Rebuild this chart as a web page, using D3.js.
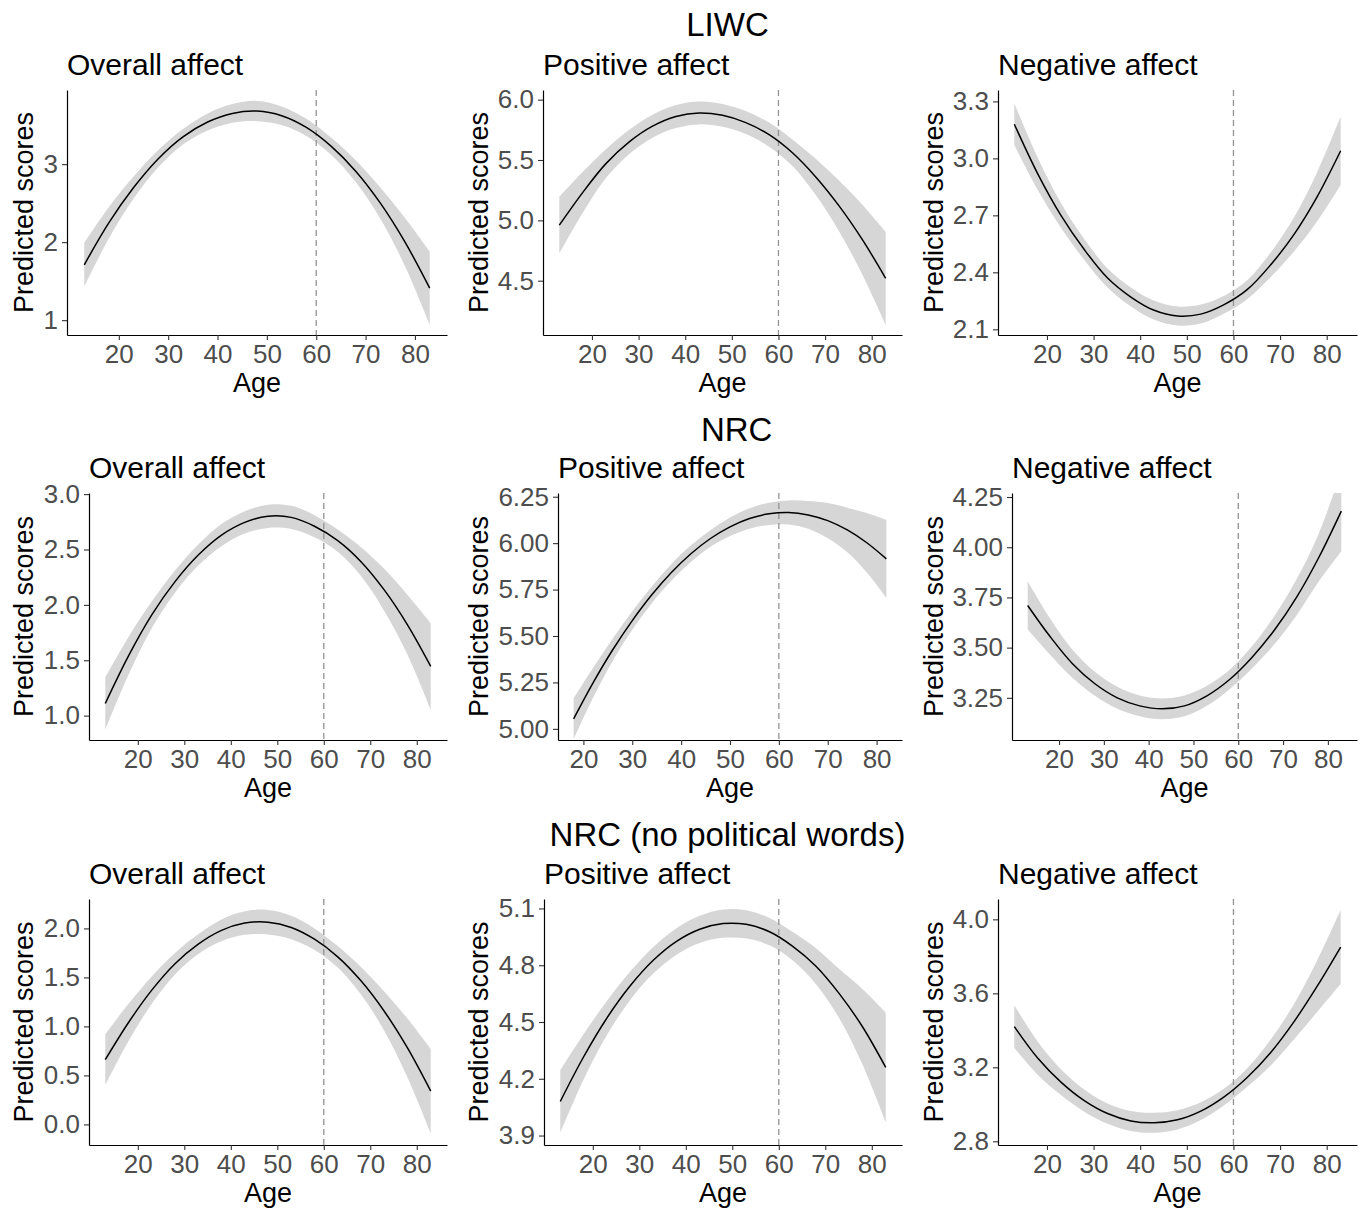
<!DOCTYPE html>
<html>
<head>
<meta charset="utf-8">
<script src="https://cdn.jsdelivr.net/npm/d3@7"></script>
<style>
  body { margin: 0; background: #fff; }
  svg { display: block; font-family: "Liberation Sans", Arial, Helvetica, sans-serif; }
</style>
</head>
<body>
<svg id="chart" width="1363" height="1208"></svg>
<script>
// ---------------- DATA ----------------
const sectionTitles = ["LIWC", "NRC", "NRC (no political words)"];
const panelTitles = ["Overall affect", "Positive affect", "Negative affect"];
const xTicks = [20, 30, 40, 50, 60, 70, 80];
const cutoffAge = 60;

const ages = [13, 18, 23, 28, 33, 38, 43, 48, 53, 58, 63, 68, 73, 78, 83];
const agesNrcPos = [18, 22, 26, 30, 34, 38, 42, 46, 50, 54, 58, 62, 66, 70, 74, 78, 82];

// LIWC
const liwcOverallFit   = [1.71, 2.25, 2.70, 3.07, 3.35, 3.54, 3.65, 3.68, 3.62, 3.47, 3.23, 2.91, 2.50, 2.00, 1.41];
const liwcOverallLower = [1.43, 2.05, 2.56, 2.96, 3.25, 3.43, 3.53, 3.55, 3.50, 3.36, 3.12, 2.77, 2.30, 1.69, 0.94];
const liwcOverallUpper = [1.99, 2.45, 2.84, 3.18, 3.45, 3.65, 3.77, 3.81, 3.74, 3.58, 3.34, 3.05, 2.70, 2.31, 1.88];

const liwcPosFit   = [4.96, 5.23, 5.47, 5.65, 5.78, 5.86, 5.89, 5.87, 5.81, 5.71, 5.56, 5.36, 5.12, 4.84, 4.52];
const liwcPosLower = [4.725, 5.06, 5.35, 5.55, 5.685, 5.765, 5.795, 5.775, 5.715, 5.61, 5.45, 5.21, 4.91, 4.55, 4.135];
const liwcPosUpper = [5.195, 5.40, 5.59, 5.75, 5.875, 5.955, 5.985, 5.965, 5.905, 5.81, 5.67, 5.51, 5.33, 5.13, 4.905];

const liwcNegFit   = [3.18, 2.92, 2.70, 2.52, 2.37, 2.27, 2.20, 2.17, 2.18, 2.23, 2.31, 2.44, 2.60, 2.80, 3.04];
const liwcNegLower = [3.07, 2.835, 2.635, 2.465, 2.32, 2.22, 2.15, 2.12, 2.13, 2.183, 2.26, 2.375, 2.51, 2.67, 2.86];
const liwcNegUpper = [3.29, 3.005, 2.765, 2.575, 2.42, 2.32, 2.25, 2.22, 2.23, 2.277, 2.36, 2.505, 2.69, 2.93, 3.22];

// NRC
const nrcOverallFit   = [1.11, 1.54, 1.91, 2.21, 2.45, 2.63, 2.745, 2.80, 2.79, 2.71, 2.58, 2.39, 2.135, 1.82, 1.445];
const nrcOverallLower = [0.875, 1.37, 1.79, 2.11, 2.355, 2.53, 2.645, 2.695, 2.685, 2.61, 2.48, 2.26, 1.945, 1.55, 1.055];
const nrcOverallUpper = [1.345, 1.71, 2.03, 2.31, 2.545, 2.73, 2.845, 2.905, 2.895, 2.81, 2.68, 2.52, 2.325, 2.09, 1.835];

const nrcPosFit   = [5.054, 5.249, 5.426, 5.583, 5.722, 5.842, 5.943, 6.025, 6.088, 6.133, 6.158, 6.165, 6.152, 6.121, 6.071, 6.002, 5.915];
const nrcPosLower = [4.944, 5.169, 5.366, 5.533, 5.677, 5.797, 5.898, 5.980, 6.038, 6.078, 6.098, 6.100, 6.077, 6.026, 5.951, 5.842, 5.705];
const nrcPosUpper = [5.164, 5.329, 5.486, 5.633, 5.767, 5.887, 5.988, 6.070, 6.138, 6.188, 6.218, 6.230, 6.227, 6.216, 6.191, 6.162, 6.125];

const nrcNegFit   = [3.71, 3.555, 3.42, 3.32, 3.25, 3.21, 3.195, 3.21, 3.26, 3.34, 3.45, 3.585, 3.75, 3.95, 4.18];
const nrcNegLower = [3.59, 3.465, 3.35, 3.26, 3.195, 3.158, 3.143, 3.158, 3.21, 3.292, 3.395, 3.515, 3.66, 3.83, 3.98];
const nrcNegUpper = [3.83, 3.645, 3.49, 3.38, 3.305, 3.262, 3.247, 3.262, 3.31, 3.388, 3.505, 3.655, 3.84, 4.07, 4.38];

// NRC (no political words)
const nrcnpOverallFit   = [0.66, 1.04, 1.37, 1.64, 1.84, 1.98, 2.054, 2.064, 2.01, 1.89, 1.71, 1.465, 1.155, 0.78, 0.34];
const nrcnpOverallLower = [0.40, 0.85, 1.23, 1.53, 1.74, 1.87, 1.934, 1.939, 1.89, 1.78, 1.60, 1.325, 0.955, 0.48, -0.09];
const nrcnpOverallUpper = [0.92, 1.23, 1.51, 1.75, 1.94, 2.09, 2.174, 2.189, 2.13, 2.00, 1.82, 1.605, 1.355, 1.08, 0.77];

const nrcnpPosFit   = [4.08, 4.315, 4.52, 4.69, 4.826, 4.926, 4.99, 5.02, 5.016, 4.977, 4.90, 4.795, 4.65, 4.475, 4.26];
const nrcnpPosLower = [3.915, 4.195, 4.43, 4.615, 4.756, 4.856, 4.918, 4.945, 4.941, 4.905, 4.825, 4.70, 4.52, 4.275, 3.97];
const nrcnpPosUpper = [4.245, 4.435, 4.61, 4.765, 4.896, 4.996, 5.062, 5.095, 5.091, 5.049, 4.975, 4.89, 4.78, 4.675, 4.55];

const nrcnpNegFit   = [3.42, 3.25, 3.12, 3.02, 2.95, 2.91, 2.90, 2.916, 2.963, 3.04, 3.146, 3.28, 3.447, 3.64, 3.85];
const nrcnpNegLower = [3.304, 3.16, 3.05, 2.96, 2.895, 2.856, 2.846, 2.864, 2.915, 2.995, 3.096, 3.21, 3.352, 3.50, 3.65];
const nrcnpNegUpper = [3.536, 3.34, 3.19, 3.08, 3.005, 2.964, 2.954, 2.968, 3.011, 3.085, 3.196, 3.35, 3.542, 3.78, 4.05];

// y tick labels per panel
const yTicks = [
  ["1", "2", "3"],
  ["4.5", "5.0", "5.5", "6.0"],
  ["2.1", "2.4", "2.7", "3.0", "3.3"],
  ["1.0", "1.5", "2.0", "2.5", "3.0"],
  ["5.00", "5.25", "5.50", "5.75", "6.00", "6.25"],
  ["3.25", "3.50", "3.75", "4.00", "4.25"],
  ["0.0", "0.5", "1.0", "1.5", "2.0"],
  ["3.9", "4.2", "4.5", "4.8", "5.1"],
  ["2.8", "3.2", "3.6", "4.0"]
];
// axis limits per panel (y)
const yLimits = [
  [0.81, 3.95], [4.05, 6.08], [2.07, 3.36],
  [0.78, 3.01], [4.94, 6.27], [3.04, 4.27],
  [-0.21, 2.30], [3.85, 5.15], [2.78, 4.11]
];
const xLimits = [
  [9.5, 86.5], [9.5, 86.5], [9.5, 86.5],
  [9.5, 86.5], [14.8, 85.2], [9.5, 86.5],
  [9.5, 86.5], [9.5, 86.5], [9.5, 86.5]
];

const panelAges = [ages, ages, ages, ages, agesNrcPos, ages, ages, ages, ages];
const panelFit = [liwcOverallFit, liwcPosFit, liwcNegFit, nrcOverallFit, nrcPosFit, nrcNegFit, nrcnpOverallFit, nrcnpPosFit, nrcnpNegFit];
const panelLower = [liwcOverallLower, liwcPosLower, liwcNegLower, nrcOverallLower, nrcPosLower, nrcNegLower, nrcnpOverallLower, nrcnpPosLower, nrcnpNegLower];
const panelUpper = [liwcOverallUpper, liwcPosUpper, liwcNegUpper, nrcOverallUpper, nrcPosUpper, nrcNegUpper, nrcnpOverallUpper, nrcnpPosUpper, nrcnpNegUpper];

// ---------------- LAYOUT ----------------
const rowTop = [90, 493, 899];
const rowBottom = [335, 740, 1145];
const panelLeft = [67, 543, 998, 89, 558, 1012, 89, 544, 998];
const colRight = [447, 902, 1357];
const yTitleX = [33, 488, 943];
const sectionX = [727.5, 736.7, 727.5];
const sectionY = [36, 441, 846];

const svg = d3.select("#chart");
const defs = svg.append("defs");

sectionTitles.forEach((t, r) => {
  svg.append("text")
    .attr("x", sectionX[r]).attr("y", sectionY[r])
    .attr("text-anchor", "middle")
    .attr("font-size", 33).attr("fill", "#000")
    .text(t);
});

for (let i = 0; i < 9; i++) {
  const r = Math.floor(i / 3), c = i % 3;
  const L = panelLeft[i], R = colRight[c], T = rowTop[r], B = rowBottom[r];
  const x = d3.scaleLinear().domain(xLimits[i]).range([L, R]);
  const y = d3.scaleLinear().domain(yLimits[i]).range([B, T]);
  const g = svg.append("g");

  const clipId = "clip" + i;
  defs.append("clipPath").attr("id", clipId)
    .append("rect").attr("x", L).attr("y", T).attr("width", R - L).attr("height", B - T);

  const rows = panelAges[i].map((a, k) => ({ age: a, fit: panelFit[i][k], lo: panelLower[i][k], hi: panelUpper[i][k] }));

  const plot = g.append("g").attr("clip-path", `url(#${clipId})`);
  plot.append("path")
    .datum(rows)
    .attr("fill", "#d6d6d6")
    .attr("d", d3.area().curve(d3.curveCatmullRom.alpha(0.5))
      .x(d => x(d.age)).y0(d => y(d.lo)).y1(d => y(d.hi)));

  plot.append("line")
    .attr("x1", x(cutoffAge)).attr("x2", x(cutoffAge))
    .attr("y1", T).attr("y2", B)
    .attr("stroke", "#939393").attr("stroke-width", 1.3)
    .attr("stroke-dasharray", "6,4");

  plot.append("path")
    .datum(rows)
    .attr("fill", "none").attr("stroke", "#000").attr("stroke-width", 1.5)
    .attr("d", d3.line().curve(d3.curveCatmullRom.alpha(0.5))
      .x(d => x(d.age)).y(d => y(d.fit)));

  // x axis
  const xAxis = g.append("g").attr("transform", `translate(0,${B})`)
    .call(d3.axisBottom(x).tickValues(xTicks).tickSize(5).tickPadding(4).tickSizeOuter(0));
  xAxis.select(".domain").attr("stroke", "#000").attr("stroke-width", 1.2);
  xAxis.selectAll(".tick line").attr("stroke", "#333").attr("stroke-width", 1.1);
  xAxis.selectAll(".tick text")
    .attr("font-size", 26).attr("fill", "#4d4d4d")
    .attr("font-family", '"Liberation Sans", Arial, Helvetica, sans-serif')
    .attr("dy", null).attr("y", 28).attr("dominant-baseline", "auto");

  // y axis
  const tv = yTicks[i].map(Number);
  const labels = yTicks[i];
  const yAxis = g.append("g").attr("transform", `translate(${L},0)`)
    .call(d3.axisLeft(y).tickValues(tv).tickSize(5).tickPadding(4).tickSizeOuter(0)
      .tickFormat((d, k) => labels[k]));
  yAxis.select(".domain").attr("stroke", "#000").attr("stroke-width", 1.2);
  yAxis.selectAll(".tick line").attr("stroke", "#333").attr("stroke-width", 1.1);
  yAxis.selectAll(".tick text")
    .attr("font-size", 26).attr("fill", "#4d4d4d")
    .attr("font-family", '"Liberation Sans", Arial, Helvetica, sans-serif');

  // axis titles
  g.append("text")
    .attr("x", (L + R) / 2).attr("y", B + 57)
    .attr("text-anchor", "middle").attr("font-size", 27).attr("fill", "#000")
    .text("Age");
  g.append("text")
    .attr("transform", `translate(${yTitleX[c]},${(T + B) / 2}) rotate(-90)`)
    .attr("text-anchor", "middle").attr("font-size", 27).attr("fill", "#000")
    .text("Predicted scores");

  // panel title
  g.append("text")
    .attr("x", L).attr("y", T - 15)
    .attr("font-size", 30).attr("fill", "#000")
    .text(panelTitles[c]);
}
</script>
</body>
</html>
